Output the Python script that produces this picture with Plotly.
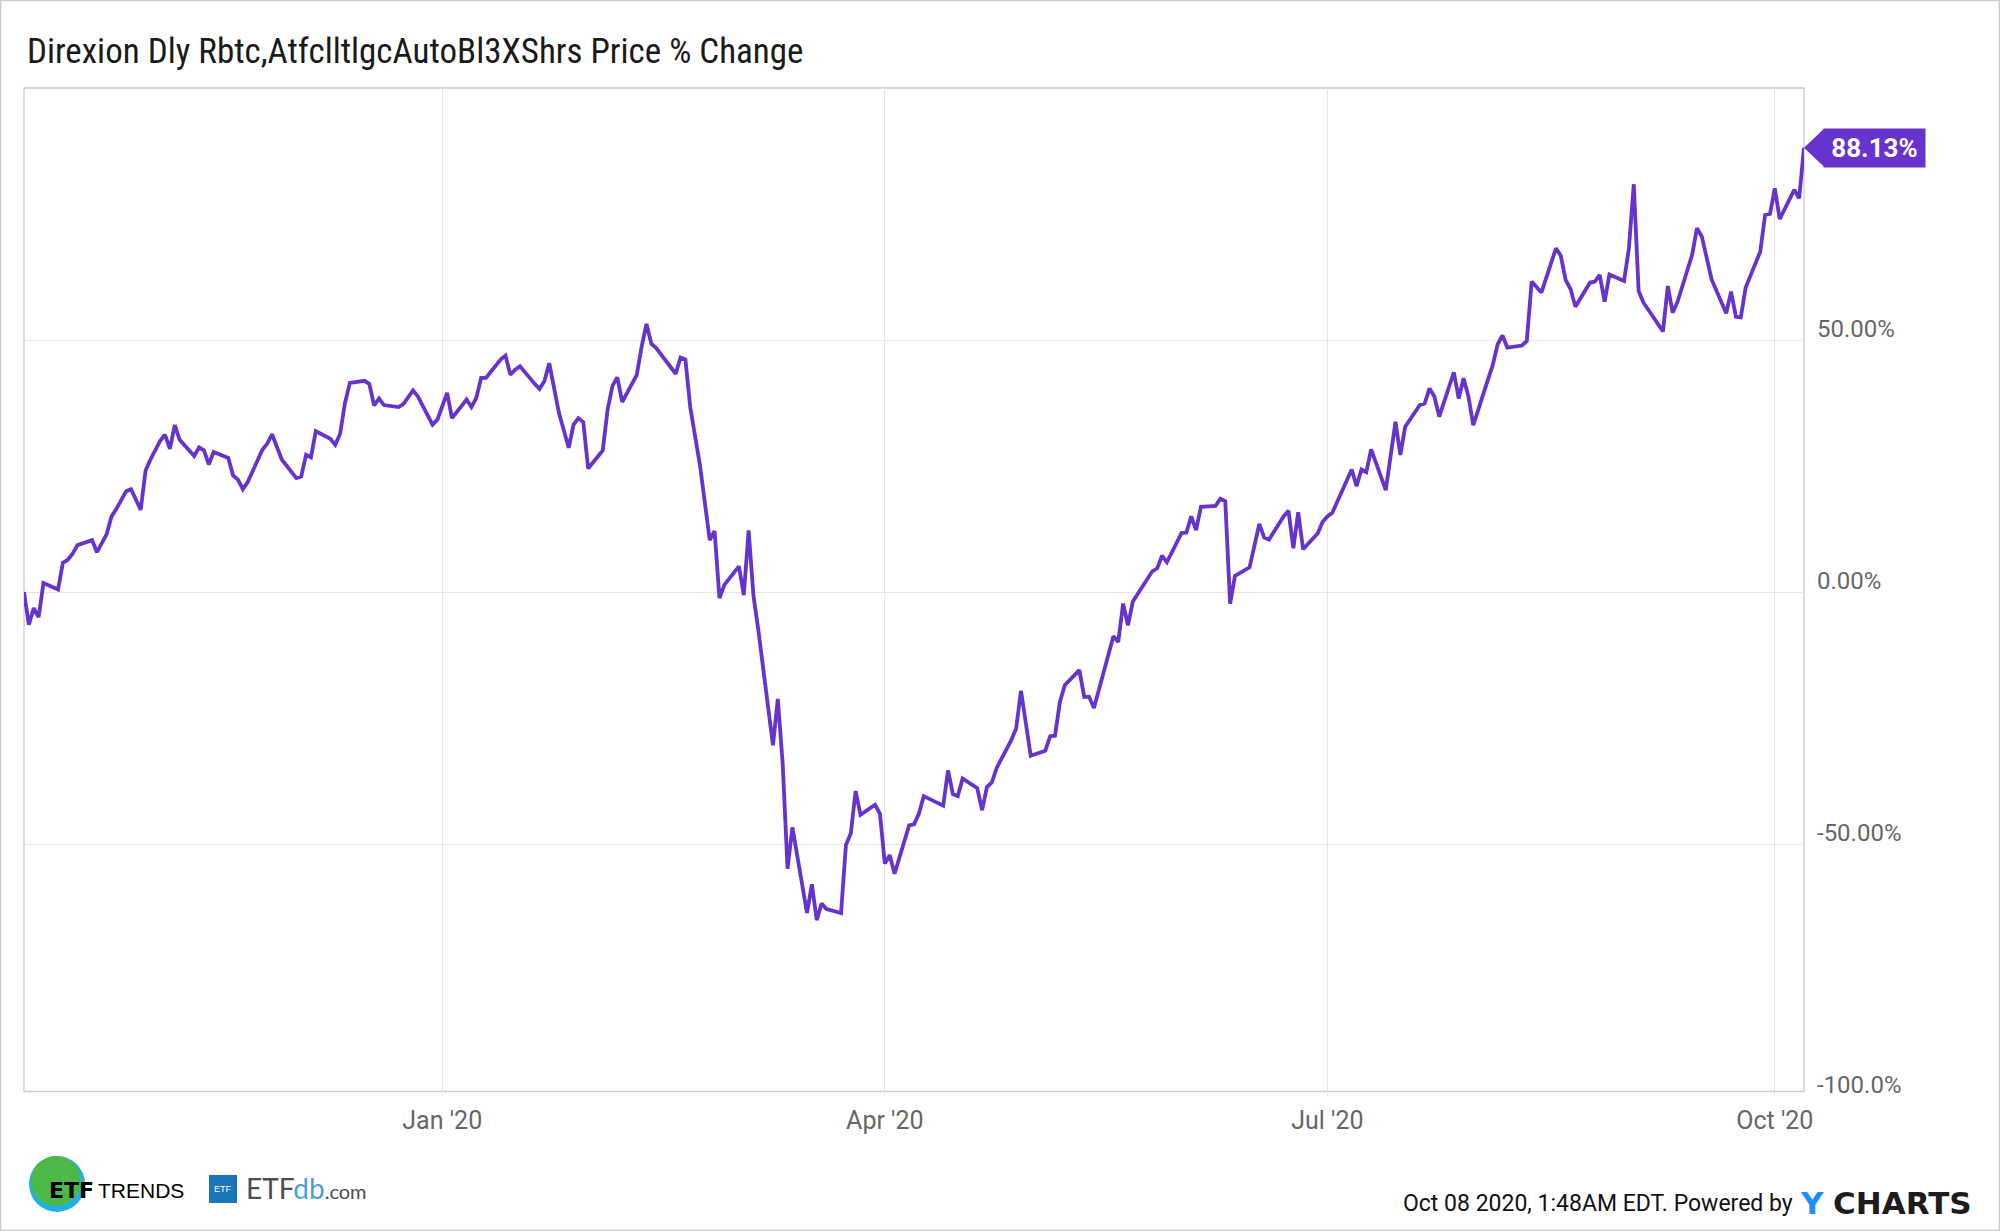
import plotly.graph_objects as go

# ---------------- data ----------------
dates = [
    "2019-10-07", "2019-10-08", "2019-10-09", "2019-10-10", "2019-10-11", "2019-10-14", "2019-10-15",
    "2019-10-16", "2019-10-17", "2019-10-18", "2019-10-21", "2019-10-22", "2019-10-24", "2019-10-25",
    "2019-10-26", "2019-10-28", "2019-10-29", "2019-10-31", "2019-11-01", "2019-11-02", "2019-11-04",
    "2019-11-05", "2019-11-06", "2019-11-07", "2019-11-08", "2019-11-10", "2019-11-11", "2019-11-12",
    "2019-11-13", "2019-11-14", "2019-11-15", "2019-11-18", "2019-11-19", "2019-11-20", "2019-11-21",
    "2019-11-22", "2019-11-25", "2019-11-26", "2019-11-27", "2019-11-29", "2019-12-02", "2019-12-03",
    "2019-12-04", "2019-12-05", "2019-12-06", "2019-12-09", "2019-12-10", "2019-12-11", "2019-12-12",
    "2019-12-13", "2019-12-16", "2019-12-17", "2019-12-18", "2019-12-19", "2019-12-20", "2019-12-23",
    "2019-12-24", "2019-12-26", "2019-12-27", "2019-12-30", "2019-12-31",
    "2020-01-02", "2020-01-03", "2020-01-06", "2020-01-07", "2020-01-08", "2020-01-09", "2020-01-10",
    "2020-01-13", "2020-01-14", "2020-01-15", "2020-01-16", "2020-01-17", "2020-01-20", "2020-01-21",
    "2020-01-22", "2020-01-23", "2020-01-25", "2020-01-27", "2020-01-28", "2020-01-29", "2020-01-30",
    "2020-01-31", "2020-02-03", "2020-02-04", "2020-02-05", "2020-02-06", "2020-02-07", "2020-02-10",
    "2020-02-11", "2020-02-12", "2020-02-13", "2020-02-14", "2020-02-18", "2020-02-19", "2020-02-20",
    "2020-02-21", "2020-02-23", "2020-02-24", "2020-02-25", "2020-02-26", "2020-02-27", "2020-02-28",
    "2020-03-02", "2020-03-03", "2020-03-04", "2020-03-05", "2020-03-06", "2020-03-09", "2020-03-10",
    "2020-03-11", "2020-03-12", "2020-03-13", "2020-03-16", "2020-03-17", "2020-03-18", "2020-03-19",
    "2020-03-20", "2020-03-23", "2020-03-24", "2020-03-25", "2020-03-26", "2020-03-27", "2020-03-30",
    "2020-03-31", "2020-04-01", "2020-04-02", "2020-04-03", "2020-04-06", "2020-04-07", "2020-04-08",
    "2020-04-09", "2020-04-13", "2020-04-14", "2020-04-15", "2020-04-16", "2020-04-17", "2020-04-20",
    "2020-04-21", "2020-04-22", "2020-04-23", "2020-04-24", "2020-04-27", "2020-04-28", "2020-04-29",
    "2020-05-01", "2020-05-04", "2020-05-05", "2020-05-06", "2020-05-07", "2020-05-08", "2020-05-11",
    "2020-05-12", "2020-05-13", "2020-05-14", "2020-05-15", "2020-05-18", "2020-05-19", "2020-05-20",
    "2020-05-21", "2020-05-22", "2020-05-26", "2020-05-27", "2020-05-28", "2020-05-29", "2020-06-01",
    "2020-06-02", "2020-06-03", "2020-06-04", "2020-06-05", "2020-06-08", "2020-06-09", "2020-06-10",
    "2020-06-11", "2020-06-12", "2020-06-15", "2020-06-17", "2020-06-18", "2020-06-19", "2020-06-22",
    "2020-06-23", "2020-06-24", "2020-06-25", "2020-06-26", "2020-06-29", "2020-06-30", "2020-07-01",
    "2020-07-02", "2020-07-06", "2020-07-07", "2020-07-08", "2020-07-09", "2020-07-10", "2020-07-13",
    "2020-07-15", "2020-07-16", "2020-07-17", "2020-07-20", "2020-07-21", "2020-07-22", "2020-07-23",
    "2020-07-24", "2020-07-27", "2020-07-28", "2020-07-29", "2020-07-30", "2020-07-31", "2020-08-03",
    "2020-08-04", "2020-08-05", "2020-08-06", "2020-08-07", "2020-08-10", "2020-08-11", "2020-08-12",
    "2020-08-14", "2020-08-17", "2020-08-18", "2020-08-19", "2020-08-20", "2020-08-21", "2020-08-24",
    "2020-08-25", "2020-08-26", "2020-08-27", "2020-08-28", "2020-08-31", "2020-09-01", "2020-09-02",
    "2020-09-03", "2020-09-04", "2020-09-08", "2020-09-09", "2020-09-10", "2020-09-11", "2020-09-14",
    "2020-09-15", "2020-09-16", "2020-09-18", "2020-09-21", "2020-09-22", "2020-09-23", "2020-09-24",
    "2020-09-25", "2020-09-28", "2020-09-29", "2020-09-30", "2020-10-01", "2020-10-02", "2020-10-05",
    "2020-10-06", "2020-10-07",
]

pct_change = [
    0.0, -6.5, -3.2, -5.0, 1.8, 0.5, 5.8,
    6.4, 7.6, 9.3, 10.3, 7.9, 11.5, 15.0,
    16.5, 20.0, 20.4, 16.3, 24.1, 26.3, 30.0,
    31.2, 28.4, 33.1, 30.2, 28.2, 27.0, 28.7,
    28.1, 25.3, 27.8, 26.6, 23.1, 22.3, 20.4,
    21.8, 28.2, 29.4, 31.3, 26.3, 22.6, 22.9,
    27.2, 26.7, 31.9, 30.4, 29.2, 31.4, 37.5,
    41.5, 41.9, 41.3, 37.0, 38.4, 37.1, 36.7,
    37.3, 40.0, 38.8, 33.2, 34.2,
    39.5, 34.5, 38.2, 36.7, 38.5, 42.5, 42.5,
    46.1, 46.9, 43.1, 44.1, 44.8, 41.3, 40.3,
    41.8, 45.4, 35.5, 28.6, 33.2, 34.5, 33.7,
    24.5, 28.1, 36.2, 40.9, 42.6, 37.7, 43.1,
    48.7, 53.2, 49.2, 48.4, 43.3, 46.5, 46.1,
    36.6, 25.1, 17.3, 10.3, 12.1, -1.2, 1.4,
    5.1, -0.6, 12.2, -0.8, -7.6, -30.4, -21.2,
    -34.1, -54.9, -46.7, -63.7, -58.0, -65.1, -61.8,
    -62.9, -63.7, -50.2, -47.9, -39.5, -44.2, -42.2,
    -44.0, -53.9, -52.2, -55.9, -46.3, -46.1, -44.0,
    -40.5, -42.4, -35.4, -40.1, -40.5, -37.0, -38.9,
    -43.3, -38.7, -37.8, -34.9, -29.4, -27.1, -19.6,
    -32.5, -31.5, -28.6, -28.5, -21.8, -18.5, -15.5,
    -20.8, -20.8, -23.0, -19.3, -8.8, -9.9, -2.3,
    -6.6, -1.9, 4.1, 4.7, 7.2, 5.9, 11.7,
    11.8, 15.0, 12.3, 16.9, 17.1, 18.5, 18.0,
    -2.3, 3.2, 4.9, 13.5, 10.8, 10.4, 15.0,
    16.1, 8.7, 15.8, 8.5, 11.6, 13.9, 15.0,
    15.7, 24.3, 21.0, 24.3, 23.8, 28.3, 20.2,
    33.8, 27.2, 32.8, 37.1, 37.4, 40.4, 38.8,
    34.8, 43.6, 38.4, 42.4, 38.8, 33.1, 42.1,
    45.0, 49.1, 50.9, 48.5, 48.9, 49.8, 61.6,
    59.4, 68.2, 66.7, 61.9, 60.1, 56.6, 61.4,
    61.6, 62.9, 57.6, 63.0, 61.7, 68.2, 80.9,
    59.7, 57.4, 51.7, 60.7, 55.4, 57.6, 66.9,
    72.2, 70.5, 62.0, 55.3, 59.6, 54.6, 54.5,
    60.4, 67.5, 74.8, 75.0, 80.1, 74.0, 79.8,
    78.1, 88.13,
]

x_tick_dates = ["2020-01-01", "2020-04-01", "2020-07-01", "2020-10-01"]
x_tick_labels = ["Jan '20", "Apr '20", "Jul '20", "Oct '20"]
y_tick_values = [-100, -50, 0, 50]
y_tick_labels = ["-100.0%", "-50.00%", "0.00%", "50.00%"]
last_value_label = "88.13%"
title_text = "Direxion Dly Rbtc,AtfclltlgcAutoBl3XShrs Price % Change"
footer_text = "Oct 08 2020, 1:48AM EDT. Powered by"

# ---------------- layout constants ----------------
W, H = 2000, 1231
ML, MR, MT, MB = 24, 196, 88, 135
PW = W - ML - MR
PH = H - MT - MB
PURPLE = "#6633CC"
GRID = "#e6e6e6"
BORDER = "#cccccc"
FONT = "Roboto"


def px(x):
    return (x - ML) / PW


def py(y):
    return 1 - (y - MT) / PH


fig = go.Figure()
fig.add_trace(go.Scatter(
    x=dates, y=pct_change, mode="lines",
    line=dict(color=PURPLE, width=3.8),
    hoverinfo="skip", showlegend=False,
))

shapes = []
annotations = []

# outer frame
shapes.append(dict(type="rect", xref="paper", yref="paper",
                   x0=px(0.5), x1=px(W - 0.5), y0=py(0.5), y1=py(H - 0.5),
                   line=dict(color=BORDER, width=1.5), layer="below"))
# plot box (bottom edge sits just above the -100% gridline)
shapes.append(dict(type="rect", xref="paper", yref="paper",
                   x0=0, x1=1, y0=py(1091.5), y1=1,
                   line=dict(color=BORDER, width=1.3), layer="below"))

# last value flag: arrow + box
shapes.append(dict(type="path", xref="paper", yref="y",
                   xsizemode="pixel", ysizemode="pixel",
                   xanchor=1, yanchor=pct_change[-1],
                   path="M 0,0 L 20,19 L 20,-19 Z",
                   fillcolor=PURPLE, line=dict(width=0)))
annotations.append(dict(x=1, y=pct_change[-1], xref="paper", yref="y",
                        text="<b>" + last_value_label + "</b>", showarrow=False,
                        xanchor="left", yanchor="middle", xshift=19,
                        font=dict(family=FONT, size=26, color="white"),
                        bgcolor=PURPLE, width=97, height=34, borderpad=2))

# title
annotations.append(dict(x=px(25), y=py(52), xref="paper", yref="paper",
                        text=title_text, showarrow=False, xanchor="left", yanchor="middle",
                        font=dict(family="Liberation Sans Narrow, Roboto Condensed, Roboto",
                                  size=35, color="#1a1a1a")))

# footer
annotations.append(dict(x=px(1795), y=py(1203), xref="paper", yref="paper",
                        text=footer_text, showarrow=False, xanchor="right", yanchor="middle",
                        font=dict(family=FONT, size=23, color="#111111")))
annotations.append(dict(x=px(1798), y=py(1203), xref="paper", yref="paper",
                        text="<b>Y</b>", showarrow=False, xanchor="left", yanchor="middle",
                        font=dict(family="DejaVu Sans", size=31, color="#1e8fff")))
annotations.append(dict(x=px(1831), y=py(1203), xref="paper", yref="paper",
                        text="<b>CHARTS</b>", showarrow=False, xanchor="left", yanchor="middle",
                        font=dict(family="DejaVu Sans", size=31, color="#1c1c1c")))

# ETF Trends logo
shapes.append(dict(type="circle", xref="paper", yref="paper",
                   x0=px(29), x1=px(85), y0=py(1156), y1=py(1212),
                   fillcolor="#1fb0e8", line=dict(width=0)))
shapes.append(dict(type="circle", xref="paper", yref="paper",
                   x0=px(31), x1=px(81), y0=py(1156), y1=py(1206),
                   fillcolor="#4cb848", line=dict(width=0)))
annotations.append(dict(x=px(47), y=py(1190), xref="paper", yref="paper",
                        text="<b>ETF</b>", showarrow=False, xanchor="left", yanchor="middle",
                        font=dict(family="DejaVu Sans", size=22, color="#000000")))
annotations.append(dict(x=px(96), y=py(1190), xref="paper", yref="paper",
                        text="TRENDS", showarrow=False, xanchor="left", yanchor="middle",
                        font=dict(family="Liberation Sans", size=21, color="#000000")))

# ETFdb logo
shapes.append(dict(type="rect", xref="paper", yref="paper",
                   x0=px(209), x1=px(237), y0=py(1175), y1=py(1203),
                   fillcolor="#1b75bb", line=dict(width=0)))
annotations.append(dict(x=px(223), y=py(1189), xref="paper", yref="paper",
                        text="ETF", showarrow=False, xanchor="center", yanchor="middle",
                        font=dict(family="Liberation Sans", size=9, color="white")))
annotations.append(dict(x=px(244), y=py(1188), xref="paper", yref="paper",
                        text="ETF<span style='color:#4a9fd5'>db</span><span style='font-size:20px'>.com</span>",
                        showarrow=False, xanchor="left", yanchor="middle",
                        font=dict(family="Lato", size=28, color="#4d4d4d")))

fig.update_layout(
    width=W, height=H,
    margin=dict(l=ML, r=MR, t=MT, b=MB, pad=0),
    paper_bgcolor="white", plot_bgcolor="white",
    showlegend=False,
    shapes=shapes, annotations=annotations,
    xaxis=dict(
        type="date", range=["2019-10-07", "2020-10-07"],
        tickvals=x_tick_dates, ticktext=x_tick_labels,
        showgrid=True, gridcolor=GRID, gridwidth=1,
        showline=False,
        ticks="", ticklabelstandoff=7,
        tickfont=dict(family=FONT, size=25, color="#666666"),
        zeroline=False, fixedrange=True,
    ),
    yaxis=dict(
        side="right", range=[-100, 100],
        tickvals=y_tick_values, ticktext=y_tick_labels,
        showgrid=True, gridcolor=GRID, gridwidth=1,
        showline=False,
        ticks="", ticklabelstandoff=12, ticklabelshift=-11,
        tickfont=dict(family=FONT, size=24, color="#666666"),
        zeroline=False, fixedrange=True,
    ),
)

fig.write_html(
    "out.html",
    config={"displayModeBar": False, "staticPlot": True},
    post_script="document.body.style.margin='0';document.body.style.overflow='hidden';",
)
